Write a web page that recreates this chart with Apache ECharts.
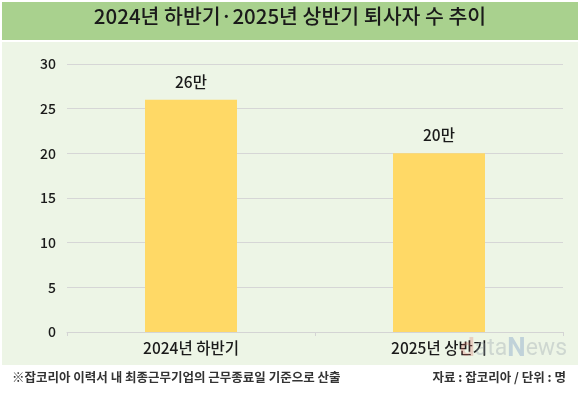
<!DOCTYPE html>
<html><head><meta charset="utf-8">
<script src="https://cdn.jsdelivr.net/npm/echarts@6/dist/echarts.min.js"></script>
<style>html,body{margin:0;padding:0;background:#fff}#c{width:580px;height:396px}</style>
</head><body><div id="c"></div>
<script>
var categories = ['2024년 하반기', '2025년 상반기'];
var values = [26, 20];
var valueLabels = ['26만', '20만'];
var yTicks = [0, 5, 10, 15, 20, 25, 30];
var titleText = '2024년 하반기·2025년 상반기 퇴사자 수 추이';
var noteText = '※잡코리아 이력서 내 최종근무기업의 근무종료일 기준으로 산출';
var sourceText = '자료 : 잡코리아 / 단위 : 명';

var FONT = '"Noto Sans CJK KR", "Noto Sans", sans-serif';
var chart = echarts.init(document.getElementById('c'), null, {renderer: 'canvas'});
chart.setOption({
  backgroundColor: '#ffffff',
  animation: false,
  graphic: [
    {type: 'rect', z: -10, shape: {x: 2, y: 2, width: 576, height: 38}, style: {fill: '#A9D18E'}},
    {type: 'rect', z: -10, shape: {x: 2, y: 42, width: 576, height: 323}, style: {fill: '#EDF5E6'}},
    {type: 'text', left: 'center', top: 6, style: {text: titleText, font: '500 20.5px ' + FONT, fill: '#1a1a1a'}},
    {type: 'text', left: 12, top: 371, style: {text: noteText, font: 'bold 12.5px ' + FONT, fill: '#333'}},
    {type: 'text', right: 14, top: 371, style: {text: sourceText, font: 'bold 12.5px ' + FONT, fill: '#333'}},
    {type: 'text', right: 13, top: 336, z: 10, style: {rich: {
        d: {font: 'bold 26px Roboto, sans-serif', fill: 'rgba(220,120,110,0.3)'},
        a: {font: '23px Roboto, sans-serif', fill: 'rgba(150,160,170,0.35)'},
        n: {font: 'bold 26px Roboto, sans-serif', fill: 'rgba(90,130,190,0.3)'}
      }, text: '{d|d}{a|ata}{n|N}{a|ews}'}}
  ],
  grid: {left: 67, right: 17, top: 64, bottom: 64, containLabel: false},
  xAxis: {
    type: 'category', data: categories,
    axisLine: {lineStyle: {color: '#d4d4d4'}},
    axisTick: {show: true, alignWithLabel: false, length: 4, lineStyle: {color: '#d4d4d4'}},
    axisLabel: {color: '#1a1a1a', fontSize: 15.5, fontWeight: 500, fontFamily: FONT, margin: 8}
  },
  yAxis: {
    type: 'value', min: 0, max: 30, interval: 5,
    axisLine: {show: false}, axisTick: {show: false},
    splitLine: {lineStyle: {color: '#d6d6d6'}},
    axisLabel: {color: '#1a1a1a', fontSize: 14, fontWeight: 500, fontFamily: FONT, margin: 11,
      formatter: function (v) { return yTicks.indexOf(v) >= 0 ? String(v) : ''; }}
  },
  series: [{
    type: 'bar', data: values, barWidth: 92,
    itemStyle: {color: '#FFD966'},
    label: {show: true, position: 'top', distance: 10, color: '#1a1a1a', fontSize: 15.5, fontWeight: 500, fontFamily: FONT,
      formatter: function (p) { return valueLabels[p.dataIndex]; }}
  }]
});
</script></body></html>
